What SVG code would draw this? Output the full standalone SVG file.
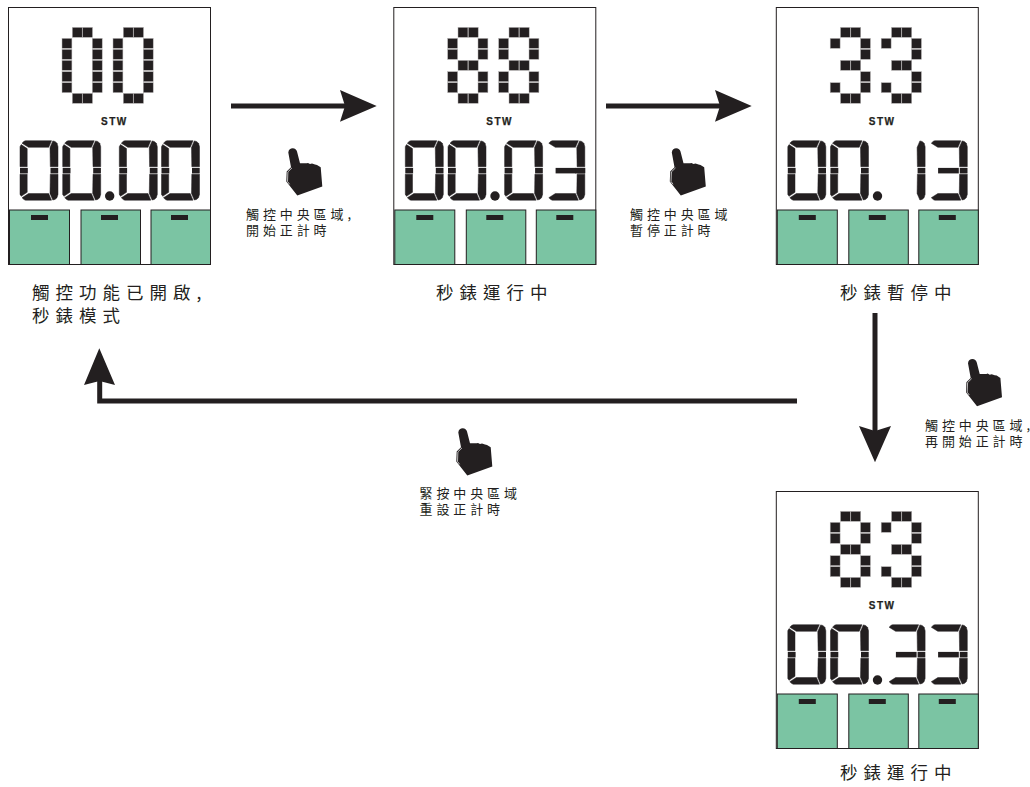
<svg xmlns="http://www.w3.org/2000/svg" width="1030" height="787" viewBox="0 0 1030 787">
<style>
text{fill:#231f20;font-family:"Noto Sans CJK TC","Liberation Sans",sans-serif}
.big{font-size:17.5px;letter-spacing:6px;font-weight:400}
.small{font-size:13px;letter-spacing:3.9px;font-weight:400}
.stw{font-family:"Liberation Sans",Arial,sans-serif;font-size:10px;font-weight:700;letter-spacing:1.5px;stroke:#231f20;stroke-width:.25}
.ink{fill:#231f20}
.seg{fill:#231f20;stroke:#231f20;stroke-width:.5}
.blk rect{fill:#231f20;stroke:#b4b2b2;stroke-width:.5;width:9.9px;height:9.9px}
.frame{fill:#fff;stroke:#231f20;stroke-width:1}
.btn{fill:#7bc4a3;stroke:#231f20;stroke-width:1}
.wire{fill:none;stroke:#231f20;stroke-width:5}
</style>
<defs>
<g id="frame">
<rect class="frame" x="8.5" y="7.5" width="202" height="257"/>
<rect class="btn" x="9.5" y="210" width="60" height="54.5"/>
<rect class="btn" x="81" y="210" width="59.5" height="54.5"/>
<rect class="btn" x="151" y="210" width="59.5" height="54.5"/>
<rect class="ink" x="31" y="215" width="17" height="5"/>
<rect class="ink" x="101" y="215" width="17" height="5"/>
<rect class="ink" x="171" y="215" width="17" height="5"/>
</g>
<g id="dot0" class="blk">
<rect x="10.3" y="0"/><rect x="20.6" y="0"/>
<rect x="0" y="11"/><rect x="0" y="22"/><rect x="0" y="33"/><rect x="0" y="44.3"/><rect x="0" y="55.3"/>
<rect x="30.3" y="11"/><rect x="30.3" y="22"/><rect x="30.3" y="33"/><rect x="30.3" y="44.3"/><rect x="30.3" y="55.3"/>
<rect x="10.3" y="66"/><rect x="20.6" y="66"/>
</g>
<g id="dot8" class="blk">
<rect x="10.3" y="0"/><rect x="20.6" y="0"/>
<rect x="0" y="11"/><rect x="0" y="22"/>
<rect x="30.3" y="11"/><rect x="30.3" y="22"/>
<rect x="10.3" y="33"/><rect x="20.6" y="33"/>
<rect x="0" y="44.3"/><rect x="0" y="55.3"/>
<rect x="30.3" y="44.3"/><rect x="30.3" y="55.3"/>
<rect x="10.3" y="66"/><rect x="20.6" y="66"/>
</g>
<g id="dot3" class="blk">
<rect x="10.3" y="0"/><rect x="20.6" y="0"/>
<rect x="0" y="11"/>
<rect x="30.3" y="11"/><rect x="30.3" y="22"/>
<rect x="10.3" y="33"/><rect x="20.6" y="33"/>
<rect x="0" y="55.3"/>
<rect x="30.3" y="44.3"/><rect x="30.3" y="55.3"/>
<rect x="10.3" y="66"/><rect x="20.6" y="66"/>
</g>
<polygon id="sT" class="seg" points="2,2.5 4,.6 5.5,0 31.5,0 28.7,6.6 8.5,6.6"/>
<polygon id="sB" class="seg" points="2,57 4,58.9 5.5,59.5 31.5,59.5 28.7,52.9 8.5,52.9"/>
<polygon id="sUL" class="seg" points="1.2,3.9 7.2,7.9 7.2,26 0,26 0,6"/>
<polygon id="sLL" class="seg" points="1.2,55.6 7.2,51.6 7.2,33.5 0,33.5 0,53.5"/>
<polygon id="sUR" class="seg" points="30,6.8 32.8,.2 35,.8 37,2.5 38,6 38,26 30.3,26"/>
<polygon id="sLR" class="seg" points="30,52.7 32.8,59.3 35,58.7 37,57 38,53.5 38,33.5 30.3,33.5"/>
<rect id="mL" class="ink" x="0" y="27.2" width="7.8" height="5.5"/>
<rect id="mR" class="ink" x="30.5" y="27.2" width="7.7" height="5.5"/>
<rect id="mC" class="ink" x="8.8" y="27.2" width="20.7" height="5.5"/>
<g id="lcd0"><use href="#sT"/><use href="#sB"/><use href="#sUL"/><use href="#sLL"/><use href="#sUR"/><use href="#sLR"/><use href="#mL"/><use href="#mR"/></g>
<g id="lcd3"><use href="#sT"/><use href="#sB"/><use href="#sUR"/><use href="#sLR"/><use href="#mC"/><use href="#mR"/></g>
<g id="lcd1"><use href="#sUR"/><use href="#sLR"/><use href="#mR"/></g>
<circle id="lcdDot" class="ink" cx="0" cy="0" r="4.7"/>
<g id="hand">
<path class="ink" d="M2.3,4.3C2.6,1.3 4.6,0 6.7,0C9,0 10.5,1.5 11,3.3L14,15L20.7,15L22,14.6L24,15.8L26,15.2L29,16.3L31,16.6L34.7,19L36.3,38.3L11.3,47.3L.3,33.3L.7,23.3L5,19Z"/>
<path d="M6,19.6L1.9,23.6L1.5,33.2L3.6,36" fill="none" stroke="#fff" stroke-width=".7"/>
</g>
<polygon id="headR" class="ink" points="0,0 -36.7,-16 -31.7,0 -36.7,15.7"/>
</defs>

<g id="connectors">
<g id="arrow-1"><line class="wire" x1="231" y1="106" x2="346" y2="106"/><use href="#headR" x="376.7" y="106"/></g>
<g id="arrow-2"><line class="wire" x1="606" y1="106" x2="721" y2="106"/><use href="#headR" x="751.7" y="106"/></g>
<g id="arrow-3"><line class="wire" x1="875" y1="313" x2="875" y2="432"/><polygon class="ink" points="875,462.3 859,426 875,431 891,426"/></g>
<g id="arrow-4"><polyline class="wire" points="797,401 99.7,401 99.7,380"/><polygon class="ink" points="99.3,348.3 84,385 99.5,381 115,385"/></g>
</g>

<g id="panel-1">
<use href="#frame"/>
<use href="#dot0" x="62" y="27.4"/><use href="#dot0" x="113" y="27.4"/>
<text class="stw" x="101" y="125">STW</text>
<use href="#lcd0" x="20" y="140.7"/><use href="#lcd0" x="62.7" y="140.7"/><use href="#lcdDot" x="109.7" y="196"/><use href="#lcd0" x="119.3" y="140.7"/><use href="#lcd0" x="161.5" y="140.7"/>
<text class="big"><tspan x="32" y="299">觸控功能已開啟,</tspan><tspan x="32" y="322">秒錶模式</tspan></text>
</g>

<g id="panel-2" transform="translate(385.3 0)">
<use href="#frame"/>
<use href="#dot8" x="62.4" y="27.4"/><use href="#dot8" x="113.4" y="27.4"/>
<text class="stw" x="101" y="125">STW</text>
<use href="#lcd0" x="20" y="140.7"/><use href="#lcd0" x="62.7" y="140.7"/><use href="#lcdDot" x="109.7" y="196"/><use href="#lcd0" x="119.3" y="140.7"/><use href="#lcd3" x="161.5" y="140.7"/>
<rect class="ink" x="190" y="167.9" width="10" height="5.5"/>
</g>
<text id="label-2" class="big" x="436" y="299">秒錶運行中</text>

<g id="panel-3" transform="translate(767.8 0)">
<use href="#frame"/>
<use href="#dot3" x="62.4" y="27.4"/><use href="#dot3" x="113.4" y="27.4"/>
<text class="stw" x="101" y="125">STW</text>
<use href="#lcd0" x="20" y="140.7"/><use href="#lcd0" x="62.7" y="140.7"/><use href="#lcdDot" x="109.7" y="196"/><use href="#lcd1" x="119.3" y="140.7"/><use href="#lcd3" x="161.5" y="140.7"/>
</g>
<text id="label-3" class="big" x="840" y="299">秒錶暫停中</text>

<g id="panel-4" transform="translate(767.8 484)">
<use href="#frame"/>
<use href="#dot8" x="62.4" y="27.4"/><use href="#dot3" x="113.4" y="27.4"/>
<text class="stw" x="101" y="125">STW</text>
<use href="#lcd0" x="20" y="140.7"/><use href="#lcd0" x="62.7" y="140.7"/><use href="#lcdDot" x="109.7" y="196"/><use href="#lcd3" x="119.3" y="140.7"/><use href="#lcd3" x="161.5" y="140.7"/>
</g>
<text id="label-4" class="big" x="840" y="779">秒錶運行中</text>

<g id="hint-1">
<use href="#hand" x="286" y="148.3"/>
<text class="small"><tspan x="246" y="218.5">觸控中央區域<tspan letter-spacing="0">,</tspan></tspan><tspan x="246" y="235">開始正計時</tspan></text>
</g>
<g id="hint-2">
<use href="#hand" x="669.5" y="148.3"/>
<text class="small"><tspan x="630" y="218.5">觸控中央區域</tspan><tspan x="630" y="235">暫停正計時</tspan></text>
</g>
<g id="hint-3">
<use href="#hand" x="965.7" y="359"/>
<text class="small"><tspan x="925" y="429.5">觸控中央區域<tspan letter-spacing="0">,</tspan></tspan><tspan x="925" y="446">再開始正計時</tspan></text>
</g>
<g id="hint-4">
<use href="#hand" x="456" y="428.3"/>
<text class="small"><tspan x="419.5" y="497.5">緊按中央區域</tspan><tspan x="419.5" y="514">重設正計時</tspan></text>
</g>
</svg>
